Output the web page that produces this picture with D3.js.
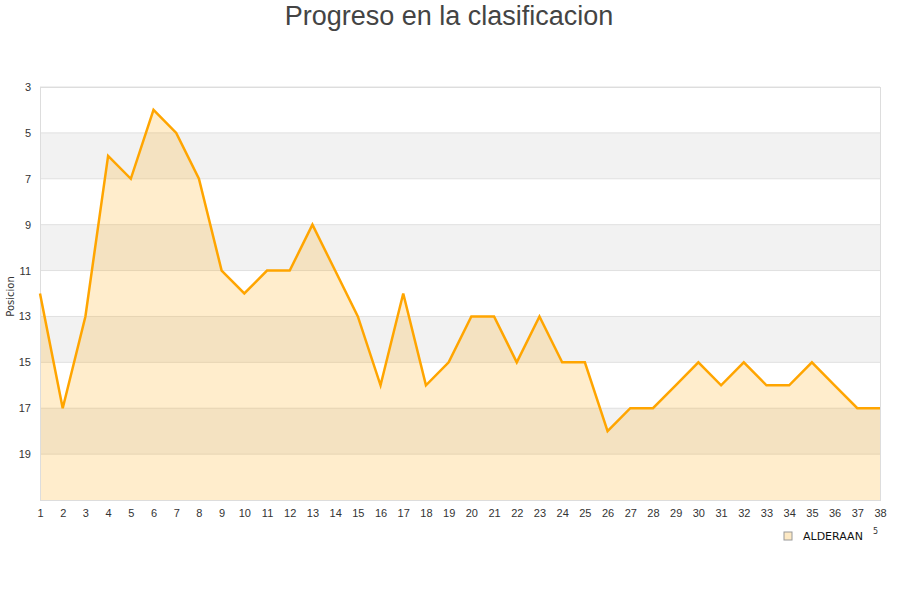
<!DOCTYPE html>
<html>
<head>
<meta charset="utf-8">
<script src="https://cdn.jsdelivr.net/npm/d3@7.9.0/dist/d3.min.js"></script>
<style>
  body { margin: 0; background: #fff; }
  svg { font-family: "DejaVu Sans", sans-serif; }
</style>
</head>
<body>
<svg id="chart" width="900" height="600"></svg>
<script>
// jornadas y posicion de ALDERAAN
const jornadas = d3.range(1, 39);
const posiciones = [12, 17, 13, 6, 7, 4, 5, 7, 11, 12, 11, 11, 9, 11, 13, 16, 12, 16, 15, 13,
                    13, 15, 13, 15, 15, 18, 17, 17, 16, 15, 16, 15, 16, 16, 15, 16, 17, 17];
const yTicks = [3, 5, 7, 9, 11, 13, 15, 17, 19];
const serieNombre = 'ALDERAAN';

const width = 900;
const height = 600;
const margin = { top: 87, right: 20, bottom: 100, left: 40 };

const data = jornadas.map((j, i) => ({ j, pos: posiciones[i] }));

const svg = d3.select('#chart');

const x = d3.scaleLinear()
  .domain([1, 38])
  .range([margin.left, width - margin.right]);

const y = d3.scaleLinear()
  .domain([3, 21])
  .range([margin.top, height - margin.bottom]);

// bandas alternas
const bands = svg.append('g');
d3.range(3, 21, 2).forEach((v, i) => {
  bands.append('rect')
    .attr('x', x(1))
    .attr('y', y(v))
    .attr('width', x(38) - x(1))
    .attr('height', y(v + 2) - y(v))
    .attr('fill', i % 2 === 1 ? '#f2f2f2' : '#ffffff');
});

// gridlines
svg.append('g')
  .selectAll('line')
  .data(yTicks)
  .join('line')
  .attr('x1', x(1))
  .attr('x2', x(38))
  .attr('y1', (d) => y(d))
  .attr('y2', (d) => y(d))
  .attr('stroke', '#e0e0e0')
  .attr('stroke-width', 1);

// area
const area = d3.area()
  .x((d) => x(d.j))
  .y0(y(21))
  .y1((d) => y(d.pos));

svg.append('path')
  .datum(data)
  .attr('d', area)
  .attr('fill', 'rgba(255,165,0,0.2)');

// borde del area de trazado
svg.append('rect')
  .attr('x', x(1) + 0.5)
  .attr('y', y(3) + 0.5)
  .attr('width', x(38) - x(1))
  .attr('height', y(21) - y(3))
  .attr('fill', 'none')
  .attr('stroke', '#dddddd');

// linea
const line = d3.line()
  .x((d) => x(d.j))
  .y((d) => y(d.pos));

svg.append('path')
  .datum(data)
  .attr('d', line)
  .attr('fill', 'none')
  .attr('stroke', '#ffa500')
  .attr('stroke-width', 2.5)
  .attr('stroke-linejoin', 'miter');

// eje Y
const yAxis = svg.append('g')
  .attr('transform', `translate(${x(1)},0)`)
  .call(d3.axisLeft(y).tickValues(yTicks).tickSize(0).tickPadding(9));
yAxis.select('.domain').remove();
yAxis.selectAll('text').attr('font-size', 11).attr('fill', '#333');

// eje X
const xAxis = svg.append('g')
  .attr('transform', `translate(0,${y(21)})`)
  .call(d3.axisBottom(x).tickValues(jornadas).tickFormat(d3.format('d')).tickSize(0).tickPadding(9));
xAxis.select('.domain').remove();
xAxis.selectAll('text').attr('font-size', 11).attr('fill', '#333');

// titulo
svg.append('text')
  .attr('x', 449)
  .attr('y', 25)
  .attr('text-anchor', 'middle')
  .attr('font-family', '"Liberation Sans", Arial, sans-serif')
  .attr('font-size', 27)
  .attr('fill', '#444')
  .text('Progreso en la clasificacion');

// titulo eje Y
svg.append('text')
  .attr('transform', `translate(14,${(y(3) + y(21)) / 2 + 3}) rotate(-90)`)
  .attr('text-anchor', 'middle')
  .attr('font-size', 10)
  .attr('fill', '#333')
  .text('Posicion');

// leyenda
const legend = svg.append('g').attr('transform', 'translate(784,532)');
legend.append('rect')
  .attr('width', 8)
  .attr('height', 8)
  .attr('fill', '#fde9c4')
  .attr('stroke', '#999')
  .attr('stroke-width', 1);
legend.append('text')
  .attr('x', 19)
  .attr('y', 8)
  .attr('font-size', 11)
  .attr('fill', '#111')
  .text(serieNombre);
legend.append('text')
  .attr('x', 89)
  .attr('y', 2)
  .attr('font-size', 8)
  .attr('fill', '#333')
  .text('5');
</script>
</body>
</html>
